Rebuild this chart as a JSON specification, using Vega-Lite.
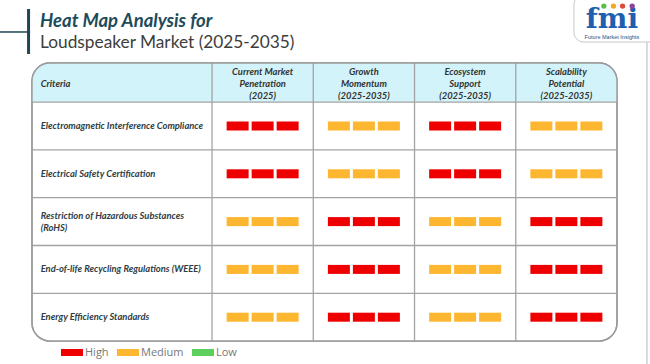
{
  "$schema": "https://vega.github.io/schema/vega-lite/v6.json",
  "width": 650,
  "height": 364,
  "padding": 0,
  "autosize": {"type": "none"},
  "background": "white",
  "config": {"view": {"stroke": null}},
  "title": {
    "text": "Heat Map Analysis for",
    "subtitle": "Loudspeaker Market (2025-2035)",
    "anchor": "start",
    "frame": "group",
    "orient": "top",
    "offset": -57,
    "dx": 40,
    "font": "Lato",
    "fontSize": 18.5,
    "fontStyle": "italic",
    "fontWeight": "bold",
    "color": "#1d4b5a",
    "subtitleFont": "Lato",
    "subtitleFontSize": 17.3,
    "subtitleColor": "#3d3d3d",
    "subtitlePadding": 3
  },
  "datasets": {
    "criteria": [
      {"row": 1, "criterion": "Electromagnetic Interference Compliance"},
      {"row": 2, "criterion": "Electrical Safety Certification"},
      {"row": 3, "criterion": ["Restriction of Hazardous Substances", "(RoHS)"]},
      {"row": 4, "criterion": "End-of-life Recycling Regulations (WEEE)"},
      {"row": 5, "criterion": "Energy Efficiency Standards"}
    ],
    "metrics": [
      {"col": 1, "metric": ["Current Market", "Penetration", "(2025)"]},
      {"col": 2, "metric": ["Growth", "Momentum", "(2025-2035)"]},
      {"col": 3, "metric": ["Ecosystem", "Support", "(2025-2035)"]},
      {"col": 4, "metric": ["Scalability", "Potential", "(2025-2035)"]}
    ],
    "cells": [
      {"row": 1, "col": 1, "level": "High"},
      {"row": 1, "col": 2, "level": "Medium"},
      {"row": 1, "col": 3, "level": "High"},
      {"row": 1, "col": 4, "level": "Medium"},
      {"row": 2, "col": 1, "level": "High"},
      {"row": 2, "col": 2, "level": "Medium"},
      {"row": 2, "col": 3, "level": "High"},
      {"row": 2, "col": 4, "level": "Medium"},
      {"row": 3, "col": 1, "level": "Medium"},
      {"row": 3, "col": 2, "level": "High"},
      {"row": 3, "col": 3, "level": "Medium"},
      {"row": 3, "col": 4, "level": "High"},
      {"row": 4, "col": 1, "level": "Medium"},
      {"row": 4, "col": 2, "level": "High"},
      {"row": 4, "col": 3, "level": "Medium"},
      {"row": 4, "col": 4, "level": "High"},
      {"row": 5, "col": 1, "level": "Medium"},
      {"row": 5, "col": 2, "level": "High"},
      {"row": 5, "col": 3, "level": "Medium"},
      {"row": 5, "col": 4, "level": "High"}
    ]
  },
  "layer": [
    {
      "data": {"values": [{}]},
      "mark": {"type": "rect", "fill": "white", "stroke": "#9a9a9a", "strokeWidth": 1.4, "cornerRadius": 18},
      "encoding": {
        "x": {"datum": -1.278, "type": "quantitative", "scale": {"type": "linear", "domain": [-1.594, 4.826], "nice": false, "zero": false}, "axis": null},
        "x2": {"datum": 4.5},
        "y": {"datum": -0.318, "type": "quantitative", "scale": {"type": "linear", "domain": [-1.636, 5.979], "nice": false, "zero": false, "reverse": true}, "axis": null},
        "y2": {"datum": 5.5}
      }
    },
    {
      "data": {"values": [{}]},
      "mark": {"type": "rect", "fill": "#d2f3f9", "cornerRadiusTopLeft": 18, "cornerRadiusTopRight": 18},
      "encoding": {
        "x": {"datum": -1.278, "type": "quantitative", "scale": {"type": "linear", "domain": [-1.594, 4.826], "nice": false, "zero": false}, "axis": null},
        "x2": {"datum": 4.5},
        "y": {"datum": -0.318, "type": "quantitative", "scale": {"type": "linear", "domain": [-1.636, 5.979], "nice": false, "zero": false, "reverse": true}, "axis": null},
        "y2": {"datum": 0.5}
      }
    },
    {
      "data": {"name": "metrics"},
      "mark": {"type": "rule", "color": "#a3a3a3", "strokeWidth": 1.3, "xOffset": -50.6},
      "encoding": {
        "x": {"field": "col", "type": "quantitative", "scale": {"type": "linear", "domain": [-1.594, 4.826], "nice": false, "zero": false}, "axis": null},
        "y": {"datum": -0.318, "type": "quantitative", "scale": {"type": "linear", "domain": [-1.636, 5.979], "nice": false, "zero": false, "reverse": true}, "axis": null},
        "y2": {"datum": 5.5}
      }
    },
    {
      "data": {"name": "criteria"},
      "mark": {"type": "rule", "color": "#a3a3a3", "strokeWidth": 1.3, "yOffset": -23.9},
      "encoding": {
        "y": {"field": "row", "type": "quantitative", "scale": {"type": "linear", "domain": [-1.636, 5.979], "nice": false, "zero": false, "reverse": true}, "axis": null},
        "x": {"datum": -1.278, "type": "quantitative", "scale": {"type": "linear", "domain": [-1.594, 4.826], "nice": false, "zero": false}, "axis": null},
        "x2": {"datum": 4.5}
      }
    },
    {
      "data": {"values": [{}]},
      "mark": {"type": "rect", "fill": null, "fillOpacity": 0, "stroke": "#9a9a9a", "strokeWidth": 1.4, "cornerRadius": 18},
      "encoding": {
        "x": {"datum": -1.278, "type": "quantitative", "scale": {"type": "linear", "domain": [-1.594, 4.826], "nice": false, "zero": false}, "axis": null},
        "x2": {"datum": 4.5},
        "y": {"datum": -0.318, "type": "quantitative", "scale": {"type": "linear", "domain": [-1.636, 5.979], "nice": false, "zero": false, "reverse": true}, "axis": null},
        "y2": {"datum": 5.5}
      }
    },
    {
      "data": {"values": [{"label": "Criteria"}]},
      "mark": {"type": "text", "align": "left", "baseline": "middle", "font": "Lato", "fontSize": 9.4, "fontStyle": "italic", "fontWeight": "bold", "color": "#333333"},
      "encoding": {
        "text": {"field": "label"},
        "x": {"datum": -1.192, "type": "quantitative", "scale": {"type": "linear", "domain": [-1.594, 4.826], "nice": false, "zero": false}, "axis": null},
        "y": {"datum": 0.121, "type": "quantitative", "scale": {"type": "linear", "domain": [-1.636, 5.979], "nice": false, "zero": false, "reverse": true}, "axis": null}
      }
    },
    {
      "data": {"name": "metrics"},
      "mark": {"type": "text", "align": "center", "baseline": "middle", "lineHeight": 11.6, "dy": -11.6, "font": "Lato", "fontSize": 9.4, "fontStyle": "italic", "fontWeight": "bold", "color": "#333333"},
      "encoding": {
        "text": {"field": "metric"},
        "x": {"field": "col", "type": "quantitative", "scale": {"type": "linear", "domain": [-1.594, 4.826], "nice": false, "zero": false}, "axis": null},
        "y": {"datum": 0.121, "type": "quantitative", "scale": {"type": "linear", "domain": [-1.636, 5.979], "nice": false, "zero": false, "reverse": true}, "axis": null}
      }
    },
    {
      "data": {"name": "criteria"},
      "transform": [{"filter": "datum.row != 3"}],
      "mark": {"type": "text", "align": "left", "baseline": "middle", "font": "Lato", "fontSize": 9.4, "fontStyle": "italic", "fontWeight": "bold", "color": "#2e3d45"},
      "encoding": {
        "text": {"field": "criterion"},
        "x": {"datum": -1.192, "type": "quantitative", "scale": {"type": "linear", "domain": [-1.594, 4.826], "nice": false, "zero": false}, "axis": null},
        "y": {"field": "row", "type": "quantitative", "scale": {"type": "linear", "domain": [-1.636, 5.979], "nice": false, "zero": false, "reverse": true}, "axis": null}
      }
    },
    {
      "data": {"name": "criteria"},
      "transform": [{"filter": "datum.row == 3"}],
      "mark": {"type": "text", "align": "left", "baseline": "middle", "lineHeight": 11.6, "dy": -5.3, "font": "Lato", "fontSize": 9.4, "fontStyle": "italic", "fontWeight": "bold", "color": "#2e3d45"},
      "encoding": {
        "text": {"field": "criterion"},
        "x": {"datum": -1.192, "type": "quantitative", "scale": {"type": "linear", "domain": [-1.594, 4.826], "nice": false, "zero": false}, "axis": null},
        "y": {"field": "row", "type": "quantitative", "scale": {"type": "linear", "domain": [-1.636, 5.979], "nice": false, "zero": false, "reverse": true}, "axis": null}
      }
    },
    {
      "data": {"name": "cells"},
      "mark": {"type": "point", "shape": "M-1,-0.41L1,-0.41L1,0.41L-1,0.41Z", "size": 484, "filled": true, "opacity": 1, "strokeWidth": 0, "xOffset": -25},
      "encoding": {
        "x": {"field": "col", "type": "quantitative", "scale": {"type": "linear", "domain": [-1.594, 4.826], "nice": false, "zero": false}, "axis": null},
        "y": {"field": "row", "type": "quantitative", "scale": {"type": "linear", "domain": [-1.636, 5.979], "nice": false, "zero": false, "reverse": true}, "axis": null},
        "color": {
          "field": "level", "type": "nominal",
          "scale": {"domain": ["High", "Medium", "Low"], "range": ["#ee0000", "#fdb62f", "#5dcf5d"]},
          "legend": {
            "title": null, "orient": "none", "direction": "horizontal", "legendX": 61, "legendY": 341.5,
            "padding": 0, "symbolType": "M-1,-0.32L1,-0.32L1,0.32L-1,0.32Z", "symbolSize": 484,
            "symbolStrokeWidth": 0, "symbolOpacity": 1, "labelOffset": 2, "columnPadding": 8,
            "labelFont": "Open Sans", "labelFontSize": 11, "labelColor": "#777777"
          }
        }
      }
    },
    {
      "data": {"name": "cells"},
      "mark": {"type": "point", "shape": "M-1,-0.41L1,-0.41L1,0.41L-1,0.41Z", "size": 484, "filled": true, "opacity": 1, "strokeWidth": 0},
      "encoding": {
        "x": {"field": "col", "type": "quantitative", "scale": {"type": "linear", "domain": [-1.594, 4.826], "nice": false, "zero": false}, "axis": null},
        "y": {"field": "row", "type": "quantitative", "scale": {"type": "linear", "domain": [-1.636, 5.979], "nice": false, "zero": false, "reverse": true}, "axis": null},
        "color": {"field": "level", "type": "nominal", "scale": {"domain": ["High", "Medium", "Low"], "range": ["#ee0000", "#fdb62f", "#5dcf5d"]}}
      }
    },
    {
      "data": {"name": "cells"},
      "mark": {"type": "point", "shape": "M-1,-0.41L1,-0.41L1,0.41L-1,0.41Z", "size": 484, "filled": true, "opacity": 1, "strokeWidth": 0, "xOffset": 25},
      "encoding": {
        "x": {"field": "col", "type": "quantitative", "scale": {"type": "linear", "domain": [-1.594, 4.826], "nice": false, "zero": false}, "axis": null},
        "y": {"field": "row", "type": "quantitative", "scale": {"type": "linear", "domain": [-1.636, 5.979], "nice": false, "zero": false, "reverse": true}, "axis": null},
        "color": {"field": "level", "type": "nominal", "scale": {"domain": ["High", "Medium", "Low"], "range": ["#ee0000", "#fdb62f", "#5dcf5d"]}}
      }
    },
    {
      "data": {"values": [{}]},
      "mark": {"type": "rule", "color": "#1e4654", "strokeWidth": 3},
      "encoding": {
        "x": {"datum": -1.312, "type": "quantitative", "scale": {"type": "linear", "domain": [-1.594, 4.826], "nice": false, "zero": false}, "axis": null},
        "y": {"datum": -1.448, "type": "quantitative", "scale": {"type": "linear", "domain": [-1.636, 5.979], "nice": false, "zero": false, "reverse": true}, "axis": null},
        "y2": {"datum": -0.506}
      }
    },
    {
      "data": {"values": [{}]},
      "mark": {"type": "rule", "color": "#1e4654", "strokeWidth": 1.5},
      "encoding": {
        "x": {"datum": -1.594, "type": "quantitative", "scale": {"type": "linear", "domain": [-1.594, 4.826], "nice": false, "zero": false}, "axis": null},
        "x2": {"datum": -1.312},
        "y": {"datum": -0.967, "type": "quantitative", "scale": {"type": "linear", "domain": [-1.636, 5.979], "nice": false, "zero": false, "reverse": true}, "axis": null}
      }
    },
    {
      "data": {"values": [{}]},
      "mark": {"type": "rule", "color": "#b5b5b5", "strokeWidth": 1},
      "encoding": {
        "x": {"datum": 4.796, "type": "quantitative", "scale": {"type": "linear", "domain": [-1.594, 4.826], "nice": false, "zero": false}, "axis": null},
        "y": {"datum": -0.757, "type": "quantitative", "scale": {"type": "linear", "domain": [-1.636, 5.979], "nice": false, "zero": false, "reverse": true}, "axis": null},
        "y2": {"datum": 5.979}
      }
    },
    {
      "data": {"values": [{}]},
      "mark": {"type": "rect", "fill": "white", "stroke": "#c8c8c8", "strokeWidth": 1, "cornerRadius": 10},
      "encoding": {
        "x": {"datum": 4.075, "type": "quantitative", "scale": {"type": "linear", "domain": [-1.594, 4.826], "nice": false, "zero": false}, "axis": null},
        "x2": {"datum": 4.95},
        "y": {"datum": -1.75, "type": "quantitative", "scale": {"type": "linear", "domain": [-1.636, 5.979], "nice": false, "zero": false, "reverse": true}, "axis": null},
        "y2": {"datum": -0.757}
      }
    },
    {
      "data": {"values": [{"logo": "fmi"}]},
      "mark": {"type": "text", "align": "center", "baseline": "bottom", "font": "DejaVu Serif", "fontSize": 28, "fontWeight": "bold", "color": "#1d5fb0"},
      "encoding": {
        "text": {"field": "logo"},
        "x": {"datum": 4.45, "type": "quantitative", "scale": {"type": "linear", "domain": [-1.594, 4.826], "nice": false, "zero": false}, "axis": null},
        "y": {"datum": -0.925, "type": "quantitative", "scale": {"type": "linear", "domain": [-1.636, 5.979], "nice": false, "zero": false, "reverse": true}, "axis": null}
      }
    },
    {
      "data": {"values": [{"logo": "Future Market Insights"}]},
      "mark": {"type": "text", "align": "center", "baseline": "middle", "font": "Liberation Sans", "fontSize": 5.5, "color": "#2a4f7a"},
      "encoding": {
        "text": {"field": "logo"},
        "x": {"datum": 4.45, "type": "quantitative", "scale": {"type": "linear", "domain": [-1.594, 4.826], "nice": false, "zero": false}, "axis": null},
        "y": {"datum": -0.862, "type": "quantitative", "scale": {"type": "linear", "domain": [-1.636, 5.979], "nice": false, "zero": false, "reverse": true}, "axis": null}
      }
    },
    {
      "data": {"values": [{}]},
      "mark": {"type": "point", "shape": "circle", "size": 28, "filled": true, "opacity": 1, "color": "#5cbf4a"},
      "encoding": {
        "x": {"datum": 4.37, "type": "quantitative", "scale": {"type": "linear", "domain": [-1.594, 4.826], "nice": false, "zero": false}, "axis": null},
        "y": {"datum": -1.51, "type": "quantitative", "scale": {"type": "linear", "domain": [-1.636, 5.979], "nice": false, "zero": false, "reverse": true}, "axis": null}
      }
    },
    {
      "data": {"values": [{}]},
      "mark": {"type": "point", "shape": "circle", "size": 28, "filled": true, "opacity": 1, "color": "#f5a623"},
      "encoding": {
        "x": {"datum": 4.465, "type": "quantitative", "scale": {"type": "linear", "domain": [-1.594, 4.826], "nice": false, "zero": false}, "axis": null},
        "y": {"datum": -1.51, "type": "quantitative", "scale": {"type": "linear", "domain": [-1.636, 5.979], "nice": false, "zero": false, "reverse": true}, "axis": null}
      }
    },
    {
      "data": {"values": [{}]},
      "mark": {"type": "point", "shape": "circle", "size": 28, "filled": true, "opacity": 1, "color": "#e0483a"},
      "encoding": {
        "x": {"datum": 4.555, "type": "quantitative", "scale": {"type": "linear", "domain": [-1.594, 4.826], "nice": false, "zero": false}, "axis": null},
        "y": {"datum": -1.51, "type": "quantitative", "scale": {"type": "linear", "domain": [-1.636, 5.979], "nice": false, "zero": false, "reverse": true}, "axis": null}
      }
    },
    {
      "data": {"values": [{}]},
      "mark": {"type": "point", "shape": "circle", "size": 28, "filled": true, "opacity": 1, "color": "#8e3fa0"},
      "encoding": {
        "x": {"datum": 4.65, "type": "quantitative", "scale": {"type": "linear", "domain": [-1.594, 4.826], "nice": false, "zero": false}, "axis": null},
        "y": {"datum": -1.51, "type": "quantitative", "scale": {"type": "linear", "domain": [-1.636, 5.979], "nice": false, "zero": false, "reverse": true}, "axis": null}
      }
    }
  ]
}
